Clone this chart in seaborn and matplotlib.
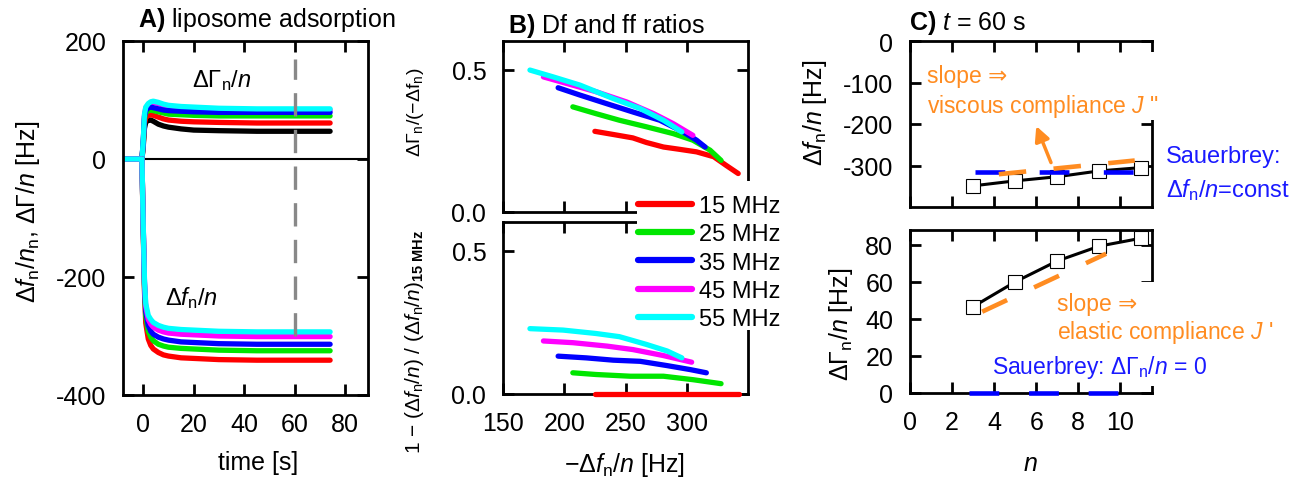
import matplotlib
matplotlib.use("Agg")
import matplotlib.pyplot as plt
import seaborn as sns
from matplotlib.lines import Line2D
from matplotlib.patches import Rectangle

# ---------------- data ----------------
freq_labels = ["15 MHz", "25 MHz", "35 MHz", "45 MHz", "55 MHz"]
freq_colors = ["#ff0000", "#00e600", "#0000ff", "#ff00ff", "#00ffff"]

# Panel A: time traces
time_s = [-8, -0.5, 0, 0.5, 1, 2, 3, 4, 6, 8, 10, 15, 20, 30, 45, 60, 74]
df_red = [0, 0, -120, -225, -278, -305, -316, -322, -328, -332, -334, -337, -338, -340, -341, -341, -341]
df_green = [0, 0, -115, -218, -266, -292, -302, -308, -314, -317, -319, -321, -322, -324, -325, -325, -325]
df_blue = [0, 0, -112, -212, -258, -282, -292, -297, -302, -305, -307, -310, -311, -313, -314, -314, -314]
df_magenta = [0, 0, -110, -208, -250, -272, -280, -285, -290, -293, -295, -297, -298, -300, -301, -301, -301]
df_cyan = [0, 0, -110, -205, -245, -265, -272, -277, -282, -285, -287, -289, -290, -292, -293, -293, -293]
dg_black = [0, 0, 20, 52, 62, 66, 66, 64, 59, 56, 54, 51, 49, 48, 47, 47, 47]
dg_red = [0, 0, 24, 60, 70, 74, 75, 74, 71, 68, 66, 64, 63, 62, 61, 61, 61]
dg_green = [0, 0, 26, 68, 78, 82, 83, 82, 80, 78, 76, 75, 74, 73, 73, 73, 73]
dg_blue = [0, 0, 28, 72, 82, 87, 88, 87, 85, 83, 82, 81, 80, 79, 79, 79, 79]
dg_magenta = [0, 0, 28, 74, 86, 92, 95, 96, 94, 91, 89, 87, 86, 84, 83, 83, 83]
dg_cyan = [0, 0, 30, 76, 88, 94, 97, 98, 96, 93, 91, 89, 88, 86, 85, 85, 85]
t_marker = 60

# Panel B top: dissipation ratio vs -Df/n
rb_x_red = [225, 240, 256, 267, 281, 294, 308, 322, 332, 342]
rb_y_red = [0.283, 0.272, 0.260, 0.244, 0.228, 0.220, 0.211, 0.194, 0.164, 0.135]
rb_x_green = [207, 226, 245, 267, 289, 305, 319, 328]
rb_y_green = [0.369, 0.345, 0.322, 0.299, 0.275, 0.252, 0.217, 0.181]
rb_x_blue = [195, 213, 234, 256, 278, 297, 308, 315]
rb_y_blue = [0.436, 0.410, 0.381, 0.351, 0.322, 0.281, 0.252, 0.228]
rb_x_magenta = [183, 202, 226, 251, 273, 289, 305]
rb_y_magenta = [0.474, 0.451, 0.422, 0.386, 0.345, 0.310, 0.269]
rb_x_cyan = [172, 191, 213, 240, 262, 281, 296]
rb_y_cyan = [0.498, 0.474, 0.445, 0.398, 0.363, 0.322, 0.281]

# Panel B bottom: frequency ratio
fb_x_red = [225, 343]
fb_y_red = [0.0, 0.0]
fb_x_green = [207, 226, 254, 281, 305, 328]
fb_y_green = [0.074, 0.068, 0.062, 0.062, 0.050, 0.036]
fb_x_blue = [195, 218, 240, 262, 284, 303, 316]
fb_y_blue = [0.132, 0.126, 0.118, 0.114, 0.099, 0.085, 0.074]
fb_x_magenta = [183, 207, 235, 256, 281, 304]
fb_y_magenta = [0.185, 0.179, 0.167, 0.155, 0.134, 0.111]
fb_x_cyan = [172, 199, 226, 245, 267, 284, 296]
fb_y_cyan = [0.228, 0.223, 0.211, 0.200, 0.173, 0.150, 0.126]

# Panel C: values at t = 60 s
overtone_n = [3, 5, 7, 9, 11]
df_n60 = [-349, -337, -327, -313, -305]
dg_n60 = [46.6, 60.0, 71.3, 79.3, 83.6]
slope_df_n = [4.22, 10.68]
slope_df_v = [-321, -288]
sauer_df_n = [3.1, 11.5]
sauer_df_v = [-316, -316]
slope_dg_n = [3.43, 9.32]
slope_dg_v = [43.9, 75.2]
sauer_dg_n = [2.8, 11.15]
sauer_dg_v = [0, 0]
arrow_tail = (6.7, -293)
arrow_head = (6.0, -205)

# ---------------- style ----------------
sns.set_theme(style="ticks")
plt.rcParams["font.family"] = ["Liberation Sans", "DejaVu Sans"]
plt.rcParams["mathtext.fontset"] = "custom"
plt.rcParams["mathtext.rm"] = "Liberation Sans"
plt.rcParams["mathtext.it"] = "Liberation Sans:italic"
plt.rcParams["mathtext.bf"] = "Liberation Sans:bold"
plt.rcParams["axes.unicode_minus"] = False
for k in ["text.color", "axes.labelcolor", "xtick.color", "ytick.color", "axes.edgecolor"]:
    plt.rcParams[k] = "black"

W, H = 1312, 485
fig = plt.figure(figsize=(W / 100, H / 100), dpi=100)
fig.patch.set_facecolor("white")

ORANGE = "#ff8c21"
BLUE_T = "#1a1aff"
FS = 18


def fx(x):
    return x / W


def fy(y):
    return 1 - y / H


def px_axes(l, t, r, b):
    ax = fig.add_axes([l / W, 1 - b / H, (r - l) / W, (b - t) / H])
    ax.set_facecolor("none")
    for s in ax.spines.values():
        s.set_linewidth(2)
        s.set_color("black")
    ax.tick_params(direction="in", length=8, width=2, top=True, right=True,
                   labelsize=FS, pad=12, colors="black")
    return ax


def line(ax, x, y, color, lw, **kw):
    sns.lineplot(x=x, y=y, ax=ax, color=color, linewidth=lw, sort=False,
                 estimator=None, legend=False, **kw)


def white_box(l, t, r, b):
    fig.add_artist(Rectangle((fx(l), fy(b)), (r - l) / W, (b - t) / H,
                             transform=fig.transFigure, facecolor="white",
                             edgecolor="none", zorder=2))


# ---------------- Panel A ----------------
axA = px_axes(123, 42, 368, 396)
for y, c in [(dg_black, "black"), (dg_red, freq_colors[0]), (dg_green, freq_colors[1]),
             (dg_magenta, freq_colors[3]), (dg_blue, freq_colors[2]), (dg_cyan, freq_colors[4])]:
    line(axA, time_s, y, c, 3.8)
for y, c in [(df_red, freq_colors[0]), (df_green, freq_colors[1]), (df_blue, freq_colors[2]),
             (df_magenta, freq_colors[3]), (df_cyan, freq_colors[4])]:
    line(axA, time_s, y, c, 3.8)
axA.axhline(0, color="black", lw=1.5, zorder=1)
axA.plot([t_marker, t_marker], [-300, 170], color="#888888", lw=2.4,
         linestyle=(0, (7, 4)), zorder=5)
axA.set_xlim(-8, 89)
axA.set_ylim(-400, 200)
axA.set_xticks([0, 20, 40, 60, 80])
axA.set_yticks([-400, -200, 0, 200])
axA.text(19.4, 135, r"$\Delta\Gamma_\mathrm{n}/n$", fontsize=17, va="center", ha="left")
axA.text(8.7, -234, r"$\Delta f_\mathrm{n}/n$", fontsize=17, va="center", ha="left")

# ---------------- Panel B ----------------
axB1 = px_axes(503, 42, 748, 213)
axB2 = px_axes(503, 223, 748, 395)
top_series = [(rb_x_red, rb_y_red), (rb_x_green, rb_y_green), (rb_x_blue, rb_y_blue),
              (rb_x_magenta, rb_y_magenta), (rb_x_cyan, rb_y_cyan)]
bot_series = [(fb_x_red, fb_y_red), (fb_x_green, fb_y_green), (fb_x_blue, fb_y_blue),
              (fb_x_magenta, fb_y_magenta), (fb_x_cyan, fb_y_cyan)]
for (x, y), c in zip(top_series, freq_colors):
    line(axB1, x, y, c, 3.8, solid_capstyle="round")
for (x, y), c in zip(bot_series, freq_colors):
    line(axB2, x, y, c, 3.8, solid_capstyle="round", clip_on=False, zorder=4)
for ax in (axB1, axB2):
    ax.set_xlim(150, 350)
    ax.set_ylim(0, 0.6)
    ax.set_xticks([150, 200, 250, 300])
    ax.set_yticks([0, 0.5])
    ax.set_yticklabels(["0.0", "0.5"])
axB1.tick_params(labelbottom=False)

# white box behind legend (breaks the spines like in the original)
white_box(637, 182, 785, 331)
handles = [Line2D([0], [0], color=c, lw=4.5) for c in freq_colors]
leg = fig.legend(handles, freq_labels, loc="upper left",
                 bbox_to_anchor=(fx(638), fy(196)), frameon=False, fontsize=17,
                 handlelength=2.3, handletextpad=0.3, labelspacing=0.27,
                 borderaxespad=0, borderpad=0)
leg.set_zorder(6)

# ---------------- Panel C ----------------
axC1 = px_axes(910, 42, 1152, 208)
axC2 = px_axes(910, 231, 1152, 394)

line(axC1, overtone_n, df_n60, "black", 2.2, marker="s", markersize=9.6,
     markerfacecolor="white", markeredgecolor="black", markeredgewidth=0.8, zorder=3)
line(axC1, sauer_df_n, sauer_df_v, "#0000ff", 3.3, linestyle=(0, (6.5, 7.5)), zorder=4)
line(axC1, slope_df_n, slope_df_v, ORANGE, 3.3, linestyle=(0, (6, 6)), zorder=4)
axC1.annotate("", xy=arrow_head, xytext=arrow_tail,
              arrowprops=dict(arrowstyle="-|>", color=ORANGE, lw=2.5,
                              mutation_scale=22, shrinkA=0, shrinkB=0))
axC1.set_xlim(0, 11.5)
axC1.set_ylim(-400, 0)
axC1.set_xticks([0, 2, 4, 6, 8, 10])
axC1.set_yticks([-300, -200, -100, 0])
axC1.tick_params(labelbottom=False)

line(axC2, overtone_n, dg_n60, "black", 2.2, marker="s", markersize=9.6,
     markerfacecolor="white", markeredgecolor="black", markeredgewidth=0.8,
     zorder=3, clip_on=False)
line(axC2, slope_dg_n, slope_dg_v, ORANGE, 3.3, linestyle=(0, (6, 6.5)), zorder=4)
line(axC2, sauer_dg_n, sauer_dg_v, "#0000ff", 3.3, linestyle=(0, (6.5, 6.5)),
     zorder=4, clip_on=False)
axC2.set_xlim(0, 11.5)
axC2.set_ylim(0, 88)
axC2.set_xticks([0, 2, 4, 6, 8, 10])
axC2.set_yticks([0, 20, 40, 60, 80])

# white patches hiding parts of the right spines behind the annotations
white_box(1138, 53, 1162, 121)
white_box(1138, 283, 1162, 387)

# ---------------- titles & labels ----------------
fig.text(fx(138), fy(20), r"$\mathbf{A)}$ liposome adsorption", fontsize=18, va="center")
fig.text(fx(508), fy(26), r"$\mathbf{B)}$ Df and ff ratios", fontsize=18, va="center")
fig.text(fx(909), fy(23), r"$\mathbf{C)}$ $t$ = 60 s", fontsize=18, va="center")

fig.text(fx(28), fy(212), r"$\Delta f_\mathrm{n}/n_\mathrm{n}$, $\Delta\Gamma/n$ [Hz]",
         rotation=90, fontsize=FS, ha="center", va="center")
fig.text(fx(258), fy(463), "time [s]", fontsize=FS, ha="center", va="center")

fig.text(fx(416), fy(112), r"$\Delta\Gamma_\mathrm{n}/(-\Delta \mathrm{f}_\mathrm{n})$",
         rotation=90, fontsize=14, ha="center", va="center")
fig.text(fx(414), fy(342),
         r"1 $-$ ($\Delta f_\mathrm{n}/n$) / ($\Delta f_\mathrm{n}/n$)$_\mathbf{15\ MHz}$",
         rotation=90, fontsize=15, ha="center", va="center")
fig.text(fx(625), fy(465), r"$-\Delta f_\mathrm{n}/n$ [Hz]", fontsize=FS,
         ha="center", va="center")

fig.text(fx(815), fy(113), r"$\Delta f_\mathrm{n}/n$ [Hz]", rotation=90, fontsize=FS,
         ha="center", va="center")
fig.text(fx(841), fy(324), r"$\Delta\Gamma_\mathrm{n}/n$ [Hz]", rotation=90, fontsize=FS,
         ha="center", va="center")
fig.text(fx(1030), fy(464), r"$n$", fontsize=FS, ha="center", va="center")

fig.text(fx(927), fy(77), "slope \u21d2", color=ORANGE, fontsize=16.5, va="center", zorder=5)
fig.text(fx(927), fy(107), "viscous compliance $J$ \"", color=ORANGE, fontsize=16.5,
         va="center", zorder=5)
fig.text(fx(1166), fy(157), "Sauerbrey:", color=BLUE_T, fontsize=17, va="center", zorder=5)
fig.text(fx(1166), fy(190), r"$\Delta f_\mathrm{n}/n$=const", color=BLUE_T, fontsize=17,
         va="center", zorder=5)
fig.text(fx(1057), fy(305), "slope \u21d2", color=ORANGE, fontsize=16.5, va="center", zorder=5)
fig.text(fx(1057), fy(333), "elastic compliance $J$ '", color=ORANGE, fontsize=16.5,
         va="center", zorder=5)
fig.text(fx(992), fy(368), r"Sauerbrey: $\Delta\Gamma_\mathrm{n}/n$ = 0", color=BLUE_T,
         fontsize=16.5, va="center", zorder=5)

fig.savefig("out.png", dpi=100, facecolor="white")
